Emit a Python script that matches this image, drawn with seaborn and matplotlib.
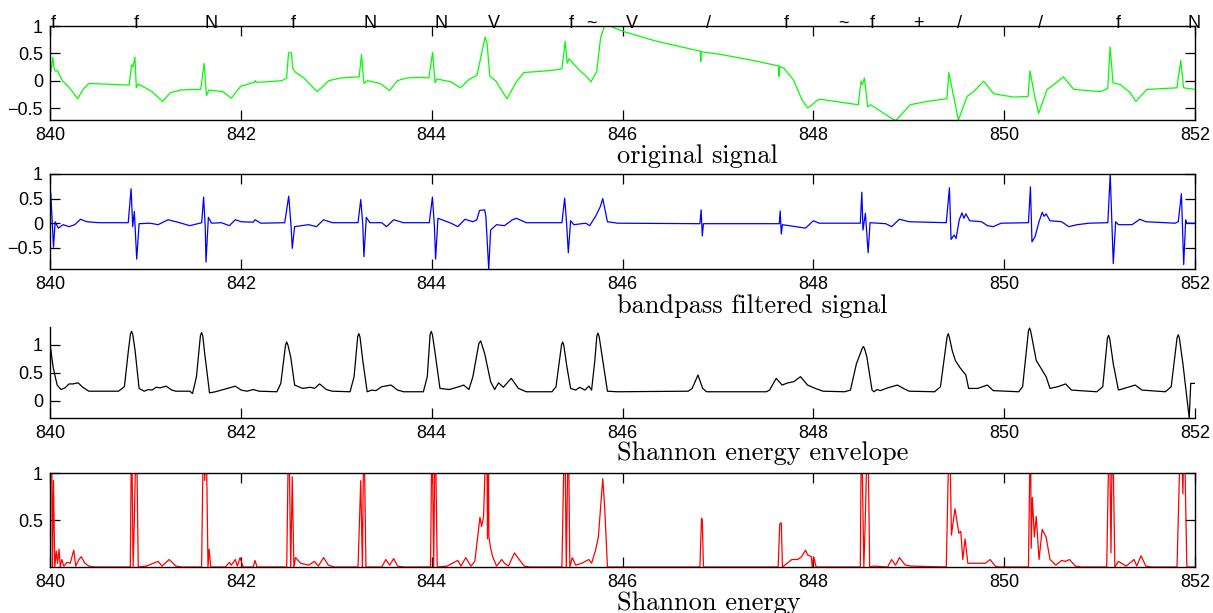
import numpy as np
import pandas as pd
import matplotlib
matplotlib.use('Agg')
import matplotlib.pyplot as plt
import seaborn as sns

# beat annotations shown above the first panel
beat_time = [840.03, 840.9, 841.69, 842.55, 843.35, 844.1, 844.65, 845.46, 845.67,
             846.1, 846.9, 847.72, 848.31, 848.62, 849.1, 849.53, 850.38, 851.2, 851.99]
beat_sym = ['f', 'f', 'N', 'f', 'N', 'N', 'V', 'f', '~', 'V', '/', 'f', '~', 'f', '+', '/', '/', 'f', 'N']

# original ECG signal
orig_t = [840.0, 840.01, 840.03, 840.04, 840.05, 840.08, 840.13, 840.2, 840.29, 840.35, 840.41, 840.53,
          840.83, 840.855, 840.87, 840.89, 840.905, 840.925, 841.07, 841.18, 841.26, 841.37, 841.58,
          841.615, 841.64, 841.665, 841.81, 841.9, 842.0, 842.14, 842.155, 842.16, 842.28, 842.43,
          842.48, 842.5, 842.53, 842.545, 842.575, 842.66, 842.8, 842.92, 843.05, 843.24, 843.265,
          843.29, 843.325, 843.46, 843.56, 843.64, 843.74, 843.88, 843.97, 844.01, 844.035, 844.055,
          844.2, 844.3, 844.39, 844.475, 844.56, 844.58, 844.61, 844.67, 844.79, 844.88, 844.965,
          845.14, 845.31, 845.365, 845.4, 845.42, 845.44, 845.56, 845.61, 845.67, 845.73, 845.77,
          845.81, 845.87, 846.01, 846.36, 846.815, 846.82, 846.825, 847.03, 847.34, 847.635, 847.64,
          847.645, 847.69, 847.79, 847.88, 847.94, 848.0, 848.04, 848.07, 848.47, 848.5, 848.515,
          848.535, 848.57, 848.6, 848.81, 848.865, 849.015, 849.19, 849.4, 849.42, 849.47, 849.52,
          849.61, 849.68, 849.785, 849.89, 850.1, 850.25, 850.27, 850.31, 850.36, 850.45, 850.52,
          850.62, 850.73, 851.01, 851.085, 851.11, 851.14, 851.215, 851.32, 851.38, 851.495, 851.81,
          851.85, 851.88, 852.0]
orig_v = [0.2, 0.17, 0.43, 0.26, 0.18, 0.18, 0.0, -0.12, -0.33, -0.15, -0.05, -0.06,
          -0.08, 0.29, 0.25, 0.43, -0.13, -0.06, -0.2, -0.38, -0.22, -0.17, -0.16,
          0.32, -0.27, -0.17, -0.2, -0.32, -0.1, -0.03, 0.0, -0.03, -0.02, 0.0,
          0.05, 0.51, 0.51, 0.22, 0.15, 0.05, -0.2, 0.0, 0.05, 0.07, 0.48,
          -0.05, 0.0, -0.05, -0.18, 0.0, 0.05, 0.06, 0.05, 0.52, -0.04, 0.03,
          -0.02, -0.13, 0.02, 0.1, 0.8, 0.69, 0.08, 0.0, -0.33, -0.04, 0.15,
          0.17, 0.2, 0.22, 0.72, 0.32, 0.4, 0.17, 0.1, -0.02, 0.17, 0.78,
          0.99, 1.0, 0.9, 0.72, 0.54, 0.35, 0.53, 0.48, 0.38, 0.27, 0.08,
          0.26, 0.23, 0.02, -0.35, -0.5, -0.42, -0.36, -0.34, -0.44, -0.01, -0.07,
          0.05, -0.48, -0.44, -0.68, -0.73, -0.44, -0.38, -0.33, 0.15, -0.29, -0.72,
          -0.29, -0.2, -0.01, -0.24, -0.3, -0.29, 0.18, -0.2, -0.6, -0.16, -0.07,
          0.07, -0.16, -0.2, -0.14, 0.62, -0.04, -0.07, -0.22, -0.38, -0.16, -0.13,
          0.37, -0.13, -0.16]

# bandpass filtered signal
band_t = [840.0, 840.008, 840.037, 840.054, 840.087, 840.137, 840.2, 840.26, 840.32, 840.386, 840.51,
          840.82, 840.85, 840.867, 840.884, 840.909, 840.934, 841.05, 841.133, 841.237, 841.34, 841.465,
          841.59, 841.61, 841.627, 841.635, 841.66, 841.693, 841.797, 841.88, 841.942, 842.004, 842.129,
          842.149, 842.21, 842.46, 842.502, 842.527, 842.539, 842.564, 842.71, 842.793, 842.867, 842.958,
          843.228, 843.257, 843.278, 843.29, 843.315, 843.353, 843.477, 843.527, 843.602, 843.705,
          843.975, 844.008, 844.029, 844.041, 844.066, 844.203, 844.274, 844.349, 844.432, 844.473,
          844.502, 844.556, 844.568, 844.598, 844.618, 844.68, 844.763, 844.846, 844.888, 844.992,
          845.365, 845.394, 845.415, 845.432, 845.456, 845.49, 845.614, 845.656, 845.718, 845.768,
          845.793, 845.842, 845.946, 846.811, 846.824, 846.836, 846.848, 847.643, 847.652, 847.664,
          847.676, 847.816, 847.918, 848.0, 848.061, 848.492, 848.508, 848.52, 848.545, 848.574,
          848.594, 848.758, 848.82, 848.902, 849.004, 849.393, 849.426, 849.443, 849.475, 849.496,
          849.529, 849.557, 849.578, 849.598, 849.639, 849.762, 849.824, 849.885, 849.967, 850.254,
          850.275, 850.291, 850.324, 850.365, 850.398, 850.418, 850.439, 850.48, 850.602, 850.676,
          850.766, 850.889, 851.086, 851.111, 851.143, 851.168, 851.197, 851.34, 851.422, 851.484,
          851.791, 851.824, 851.857, 851.881, 851.902, 851.914, 852.0]
band_v = [0.0, 0.62, -0.49, 0.03, -0.1, -0.03, -0.07, -0.03, 0.08, 0.03, 0.01,
          0.01, 0.7, -0.07, 0.24, -0.73, -0.01, 0.0, -0.03, 0.07, 0.02, -0.05,
          0.01, 0.53, -0.07, -0.79, 0.12, 0.0, 0.01, -0.05, 0.07, 0.03, 0.02,
          0.07, 0.0, 0.01, 0.55, -0.07, -0.51, -0.07, -0.03, -0.07, 0.07, 0.01,
          0.01, 0.48, -0.03, -0.68, 0.12, 0.01, 0.01, -0.07, 0.07, 0.01,
          0.01, 0.53, -0.07, -0.73, 0.1, 0.0, -0.07, 0.08, 0.03, 0.07,
          0.26, 0.27, 0.14, -0.94, -0.14, -0.03, -0.05, 0.07, 0.1, 0.01,
          0.01, 0.51, -0.03, -0.6, 0.05, -0.03, 0.0, -0.05, 0.14, 0.34,
          0.5, 0.03, 0.0, -0.01, 0.27, -0.26, -0.01, -0.01, 0.25, -0.22,
          -0.03, -0.07, -0.1, 0.05, 0.0, 0.0, 0.63, -0.14, 0.2, -0.6,
          0.01, -0.01, -0.07, 0.08, 0.03, 0.01, 0.72, -0.33, -0.24, -0.31,
          0.07, 0.21, 0.1, 0.19, 0.05, 0.03, -0.05, -0.07, 0.0, 0.01,
          0.74, -0.38, -0.27, 0.03, 0.22, 0.14, 0.19, 0.05, 0.03, -0.07,
          -0.03, 0.0, 0.01, 1.0, -0.82, 0.03, -0.03, -0.03, 0.08, 0.03,
          0.0, 0.03, 0.6, -0.84, 0.07, 0.0, 0.0]

# Shannon energy envelope
env_t = [840.0, 840.033, 840.075, 840.116, 840.158, 840.2, 840.24, 840.295, 840.344, 840.407, 840.718,
         840.78, 840.822, 840.843, 840.855, 840.867, 840.892, 840.934, 840.988, 841.03, 841.07, 841.112,
         841.154, 841.216, 841.278, 841.32, 841.465, 841.494, 841.535, 841.577, 841.589, 841.601,
         841.622, 841.672, 841.734, 841.817, 841.942, 842.004, 842.066, 842.129, 842.191, 842.378,
         842.419, 842.469, 842.481, 842.493, 842.523, 842.564, 842.647, 842.73, 842.772, 842.826,
         842.896, 842.958, 843.145, 843.187, 843.225, 843.237, 843.249, 843.278, 843.324, 843.373,
         843.415, 843.477, 843.573, 843.643, 843.705, 843.913, 843.954, 843.984, 843.996, 844.008,
         844.037, 844.087, 844.183, 844.286, 844.336, 844.39, 844.432, 844.494, 844.514, 844.556,
         844.618, 844.66, 844.701, 844.751, 844.834, 844.909, 844.992, 845.261, 845.303, 845.361,
         845.373, 845.385, 845.415, 845.456, 845.51, 845.552, 845.606, 845.647, 845.676, 845.71,
         845.731, 845.743, 845.755, 845.788, 845.842, 845.946, 846.689, 846.73, 846.791, 846.84,
         846.881, 847.508, 847.541, 847.611, 847.672, 847.734, 847.795, 847.865, 847.939, 848.02,
         848.102, 848.328, 848.389, 848.451, 848.484, 848.513, 848.525, 848.537, 848.561, 848.615,
         848.635, 848.668, 848.701, 848.779, 848.881, 848.943, 849.004, 849.27, 849.332, 849.402,
         849.414, 849.426, 849.455, 849.488, 849.537, 849.598, 849.627, 849.721, 849.824, 849.885,
         850.152, 850.193, 850.254, 850.266, 850.278, 850.336, 850.389, 850.439, 850.48, 850.561,
         850.643, 850.705, 850.971, 851.033, 851.082, 851.094, 851.106, 851.143, 851.197, 851.238,
         851.373, 851.443, 851.689, 851.75, 851.812, 851.824, 851.836, 851.873, 851.939, 851.955,
         852.0]
env_v = [1.02, 0.6, 0.28, 0.2, 0.23, 0.3, 0.3, 0.32, 0.24, 0.17, 0.17,
         0.25, 0.9, 1.19, 1.24, 1.19, 0.9, 0.22, 0.17, 0.2, 0.19, 0.24,
         0.23, 0.26, 0.19, 0.17, 0.17, 0.13, 0.43, 1.17, 1.22, 1.16,
         0.84, 0.14, 0.16, 0.2, 0.26, 0.19, 0.17, 0.2, 0.17, 0.16,
         0.31, 1.0, 1.05, 1.0, 0.78, 0.28, 0.22, 0.24, 0.22, 0.3,
         0.2, 0.17, 0.16, 0.43, 1.15, 1.2, 1.14, 0.72, 0.16, 0.19,
         0.18, 0.25, 0.28, 0.19, 0.16, 0.16, 0.43, 1.19, 1.24, 1.18,
         0.84, 0.22, 0.2, 0.25, 0.28, 0.2, 0.43, 1.02, 1.07, 0.84,
         0.34, 0.2, 0.32, 0.24, 0.4, 0.22, 0.16, 0.16, 0.25, 1.0,
         1.05, 0.99, 0.63, 0.22, 0.19, 0.24, 0.19, 0.26, 0.19, 0.72,
         1.16, 1.21, 1.15, 0.78, 0.17, 0.16, 0.17, 0.22, 0.46, 0.22,
         0.16, 0.16, 0.19, 0.4, 0.28, 0.32, 0.34, 0.43, 0.28, 0.22,
         0.17, 0.16, 0.19, 0.66, 0.81, 0.94, 0.97, 0.93, 0.78, 0.19,
         0.16, 0.2, 0.18, 0.23, 0.28, 0.22, 0.17, 0.16, 0.25, 1.15,
         1.2, 1.13, 0.9, 0.72, 0.59, 0.46, 0.22, 0.22, 0.28, 0.18,
         0.16, 0.25, 1.25, 1.3, 1.24, 0.72, 0.57, 0.43, 0.22, 0.25,
         0.3, 0.19, 0.16, 0.25, 1.12, 1.17, 1.11, 0.66, 0.19, 0.21,
         0.28, 0.19, 0.16, 0.25, 1.13, 1.18, 1.12, 0.66, -0.31, 0.31,
         0.31]

# Shannon energy (peaks above 1 are cut by the axis)
se_t = [840.0, 840.017, 840.025, 840.037, 840.05, 840.066, 840.079, 840.095, 840.108, 840.124, 840.145,
        840.178, 840.212, 840.249, 840.27, 840.303, 840.328, 840.365, 840.407, 840.469, 840.842,
        840.855, 840.871, 840.884, 840.905, 840.925, 841.008, 841.133, 841.174, 841.249, 841.32,
        841.382, 841.589, 841.61, 841.622, 841.635, 841.656, 841.668, 841.685, 841.838, 841.88,
        841.9, 841.942, 841.963, 841.992, 842.025, 842.129, 842.149, 842.17, 842.481, 842.502,
        842.523, 842.539, 842.556, 842.573, 842.627, 842.71, 842.772, 842.813, 842.867, 842.917,
        842.979, 843.228, 843.257, 843.274, 843.29, 843.311, 843.477, 843.519, 843.56, 843.602,
        843.643, 843.705, 843.988, 844.004, 844.021, 844.037, 844.058, 844.162, 844.274, 844.307,
        844.357, 844.411, 844.452, 844.506, 844.523, 844.544, 844.577, 844.585, 844.593, 844.6,
        844.618, 844.639, 844.68, 844.734, 844.763, 844.805, 844.867, 844.917, 844.971, 845.033,
        845.365, 845.394, 845.411, 845.432, 845.448, 845.473, 845.51, 845.573, 845.647, 845.676,
        845.718, 845.747, 845.793, 845.813, 845.842, 846.811, 846.828, 846.836, 846.848, 847.631,
        847.648, 847.664, 847.676, 847.725, 847.775, 847.836, 847.877, 847.918, 847.939, 847.98,
        847.988, 848.004, 848.029, 848.492, 848.504, 848.529, 848.541, 848.57, 848.59, 848.635,
        848.779, 848.82, 848.861, 848.902, 848.963, 849.025, 849.393, 849.426, 849.447, 849.484,
        849.525, 849.545, 849.566, 849.59, 849.619, 849.701, 849.803, 849.852, 849.906, 849.947,
        850.254, 850.275, 850.283, 850.295, 850.316, 850.336, 850.365, 850.398, 850.439, 850.48,
        850.541, 850.602, 850.643, 850.684, 850.746, 850.807, 851.074, 851.102, 851.119, 851.135,
        851.16, 851.197, 851.279, 851.361, 851.389, 851.434, 851.484, 851.545, 851.811, 851.852,
        851.873, 851.885, 851.914, 852.0]
se_v = [1.6, 1.6, 0.0, 0.92, 0.0, 0.17, 0.04, 0.19, 0.0, 0.08, 0.01,
        0.05, 0.04, 0.18, 0.01, 0.08, 0.11, 0.04, 0.01, 0.0, 0.0,
        1.6, 0.0, 0.48, 1.6, 0.0, 0.01, 0.06, 0.01, 0.08, 0.01,
        0.0, 0.0, 1.6, 0.92, 1.6, 0.0, 0.19, 0.0, 0.0, 0.05,
        0.02, 0.08, 0.01, 0.1, 0.0, 0.0, 0.07, 0.0, 0.0, 1.6,
        0.0, 0.96, 0.0, 0.1, 0.04, 0.02, 0.06, 0.01, 0.1, 0.02,
        0.0, 0.0, 0.92, 0.0, 1.6, 0.0, 0.0, 0.08, 0.02, 0.09,
        0.01, 0.0, 0.0, 1.6, 0.0, 1.6, 0.0, 0.01, 0.07, 0.01,
        0.1, 0.01, 0.06, 0.53, 0.43, 0.54, 1.6, 0.3, 1.6, 0.32,
        0.2, 0.11, 0.01, 0.08, 0.04, 0.01, 0.15, 0.08, 0.01, 0.0,
        0.0, 1.6, 0.0, 1.6, 0.0, 0.1, 0.02, 0.04, 0.08, 0.04,
        0.18, 0.32, 0.94, 0.64, 0.0, 0.0, 0.52, 0.5, 0.0, 0.0,
        0.46, 0.47, 0.0, 0.04, 0.08, 0.08, 0.11, 0.18, 0.13, 0.11,
        0.0, 0.11, 0.0, 0.0, 1.6, 0.0, 0.38, 1.6, 0.0, 0.01,
        0.0, 0.08, 0.02, 0.1, 0.02, 0.01, 0.0, 1.6, 0.34, 0.62,
        0.36, 0.38, 0.08, 0.3, 0.04, 0.04, 0.04, 0.08, 0.01, 0.0,
        0.0, 1.6, 0.2, 0.74, 0.32, 0.54, 0.08, 0.4, 0.32, 0.08,
        0.02, 0.07, 0.06, 0.08, 0.01, 0.0, 0.0, 1.6, 0.15, 1.6,
        0.0, 0.06, 0.01, 0.08, 0.01, 0.12, 0.01, 0.0, 0.0, 1.6,
        0.78, 1.6, 0.0, 0.0]

sns.set_style('ticks')
plt.rcParams['font.family'] = ['Liberation Sans', 'DejaVu Sans']
plt.rcParams['text.color'] = 'black'

fig = plt.figure(figsize=(12.13, 6.13), dpi=100)

panels = [
    (orig_t, orig_v, '#00ff00', (-0.72, 1.0), [-0.5, 0, 0.5, 1], 'original signal', 0.8042, 0.1533),
    (band_t, band_v, '#0000ff', (-0.93, 1.0), [-0.5, 0, 0.5, 1], 'bandpass filtered signal', 0.5612, 0.155),
    (env_t, env_v, 'black', (-0.31, 1.32), [0, 0.5, 1], 'Shannon energy envelope', 0.3181, 0.1485),
    (se_t, se_v, '#ff0000', (0.0, 1.0), [0.5, 1], 'Shannon energy', 0.075, 0.1533),
]

axes = []
for i, (t, v, col, ylim, yt, lab, bot, h) in enumerate(panels):
    ax = fig.add_axes([0.0412, bot, 0.944, h])
    df = pd.DataFrame({'t': t, 'v': v})
    sns.lineplot(data=df, x='t', y='v', ax=ax, color=col, lw=0.9,
                 estimator=None, sort=False)
    ax.set_xlim(840, 852)
    ax.set_ylim(*ylim)
    ax.set_xticks(np.arange(840, 853, 2))
    ax.set_yticks(yt)
    ax.set_yticklabels([('%g' % y).replace('-', '\u2212') for y in yt])
    ax.set_xlabel('')
    ax.set_ylabel('')
    full_box = (i != 2)
    ax.tick_params(direction='in', length=7.5, width=0.9, labelsize=13,
                   top=full_box, right=full_box, pad=5, colors='black')
    for s in ax.spines.values():
        s.set_linewidth(1.0)
        s.set_color('black')
    if not full_box:
        ax.spines['top'].set_visible(False)
        ax.spines['right'].set_visible(False)
    ax.text(0.4955, -0.46, lab, transform=ax.transAxes, ha='left', va='baseline',
            fontsize=19, family='cmr10', color='black')
    axes.append(ax)

for bt, bs in zip(beat_time, beat_sym):
    axes[0].text(bt, 0.96, bs, ha='center', va='baseline', fontsize=13,
                 color='black', clip_on=False)

fig.savefig('out.png', dpi=100)
